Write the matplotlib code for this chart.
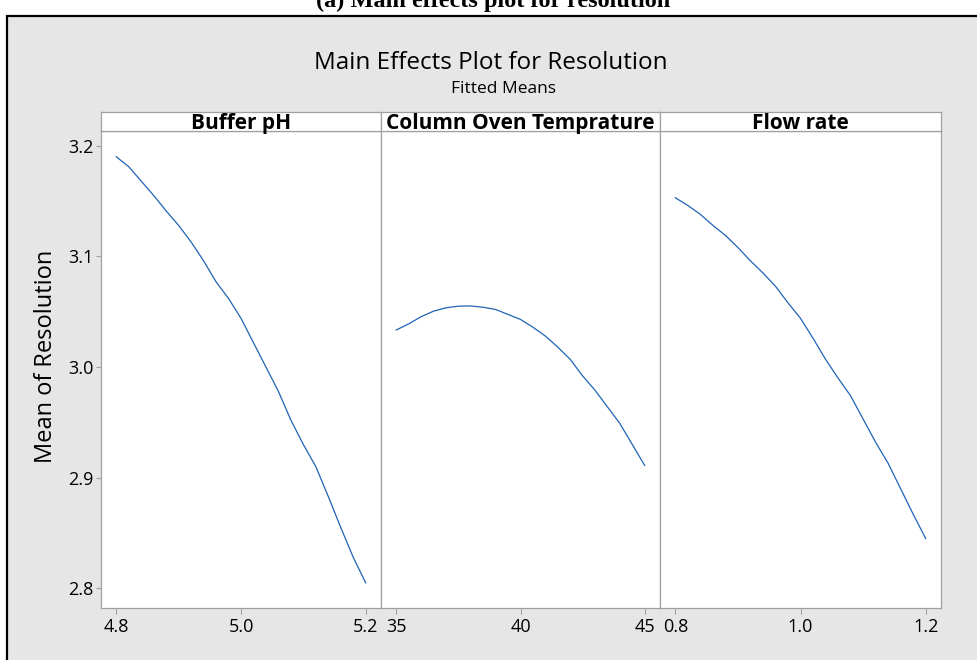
import matplotlib.pyplot as plt
from matplotlib.patches import Rectangle

# fitted means
buffer_ph = [4.80, 4.82, 4.84, 4.86, 4.88, 4.90, 4.92, 4.94, 4.96, 4.98, 5.00,
             5.02, 5.04, 5.06, 5.08, 5.10, 5.12, 5.14, 5.16, 5.18, 5.20]
res_ph = [3.190, 3.181, 3.168, 3.155, 3.141, 3.128, 3.113, 3.096, 3.077, 3.062, 3.044,
          3.022, 3.000, 2.978, 2.952, 2.930, 2.910, 2.883, 2.855, 2.828, 2.805]

oven_temp = [35.0, 35.5, 36.0, 36.5, 37.0, 37.5, 38.0, 38.5, 39.0, 39.5, 40.0,
             40.5, 41.0, 41.5, 42.0, 42.5, 43.0, 43.5, 44.0, 44.5, 45.0]
res_temp = [3.0335, 3.039, 3.0455, 3.0505, 3.0535, 3.055, 3.0552, 3.054, 3.052, 3.0475, 3.043,
            3.036, 3.028, 3.018, 3.007, 2.992, 2.979, 2.964, 2.949, 2.930, 2.911]

flow_rate = [0.80, 0.82, 0.84, 0.86, 0.88, 0.90, 0.92, 0.94, 0.96, 0.98, 1.00,
             1.02, 1.04, 1.06, 1.08, 1.10, 1.12, 1.14, 1.16, 1.18, 1.20]
res_flow = [3.153, 3.146, 3.138, 3.128, 3.119, 3.108, 3.096, 3.085, 3.073, 3.058, 3.044,
            3.026, 3.007, 2.990, 2.974, 2.953, 2.932, 2.913, 2.890, 2.867, 2.845]

factor_names = ['Buffer pH', 'Column Oven Temprature', 'Flow rate']
x_ticks = [[4.8, 5.0, 5.2], [35, 40, 45], [0.8, 1.0, 1.2]]
x_ticklabels = [['4.8', '5.0', '5.2'], ['35', '40', '45'], ['0.8', '1.0', '1.2']]
y_ticks = [2.8, 2.9, 3.0, 3.1, 3.2]
y_ticklabels = ['2.8', '2.9', '3.0', '3.1', '3.2']

plt.rcParams['font.family'] = ['Open Sans', 'DejaVu Sans']

W, H = 977, 660
fig = plt.figure(figsize=(W / 100, H / 100), dpi=100)
fig.patch.set_facecolor('white')

# grey minitab background with black frame
fig.patches.append(Rectangle((7 / W, -0.05), 1.05, (H - 16) / H + 0.05, transform=fig.transFigure,
                             facecolor='#e6e6e6', edgecolor='black', linewidth=1.6, zorder=-5))

# caption above the frame (cut off in the reference)
fig.text(0.505, 1 - 7 / H, '(a) Main effects plot for resolution', ha='center', va='baseline',
         fontsize=17.5, fontweight='bold', family='Liberation Serif')

fig.text(0.502, 1 - 63 / H, 'Main Effects Plot for Resolution', ha='center', va='center', fontsize=17.5)
fig.text(0.515, 1 - 89 / H, 'Fitted Means', ha='center', va='center', fontsize=12.5)

gray = '#a0a0a0'
line_col = '#1f63b5'
left_px = [101, 381, 660]
width_px = [280, 279, 281]
bottom_px, top_px = 607.7, 131
strip_top = 112
pad_px = 15.3

xs = [buffer_ph, oven_temp, flow_rate]
ys = [res_ph, res_temp, res_flow]

for i in range(3):
    ax = fig.add_axes([left_px[i] / W, (H - bottom_px) / H, width_px[i] / W, (bottom_px - top_px) / H])
    ax.set_zorder(2)
    ax.plot(xs[i], ys[i], color=line_col, linewidth=0.9)
    lo, hi = x_ticks[i][0], x_ticks[i][-1]
    per_px = (hi - lo) / (width_px[i] - 2 * pad_px)
    ax.set_xlim(lo - pad_px * per_px, hi + pad_px * per_px)
    ax.set_ylim(2.7825, 3.2133)
    ax.set_xticks(x_ticks[i])
    ax.set_xticklabels(x_ticklabels[i])
    ax.tick_params(axis='x', length=4.5, width=0.8, color=gray, pad=3, labelsize=13)
    if i == 0:
        ax.set_yticks(y_ticks)
        ax.set_yticklabels(y_ticklabels)
        ax.tick_params(axis='y', length=3.5, width=0.8, color=gray, pad=2, labelsize=13)
        ax.set_ylabel('Mean of Resolution', fontsize=17)
        ax.yaxis.set_label_coords(-0.155, 0.528)
    else:
        ax.set_yticks([])
    for s in ax.spines.values():
        s.set_color(gray)
        s.set_linewidth(0.9)

    # factor strip
    sax = fig.add_axes([left_px[i] / W, (H - top_px) / H, width_px[i] / W, (top_px - strip_top) / H])
    sax.set_zorder(2)
    sax.set_xticks([])
    sax.set_yticks([])
    for s in sax.spines.values():
        s.set_color(gray)
        s.set_linewidth(0.9)
    sax.text(0.5, 0.42, factor_names[i], ha='center', va='center', fontsize=15,
             fontweight='bold', transform=sax.transAxes)

fig.savefig('out.png', dpi=100)
